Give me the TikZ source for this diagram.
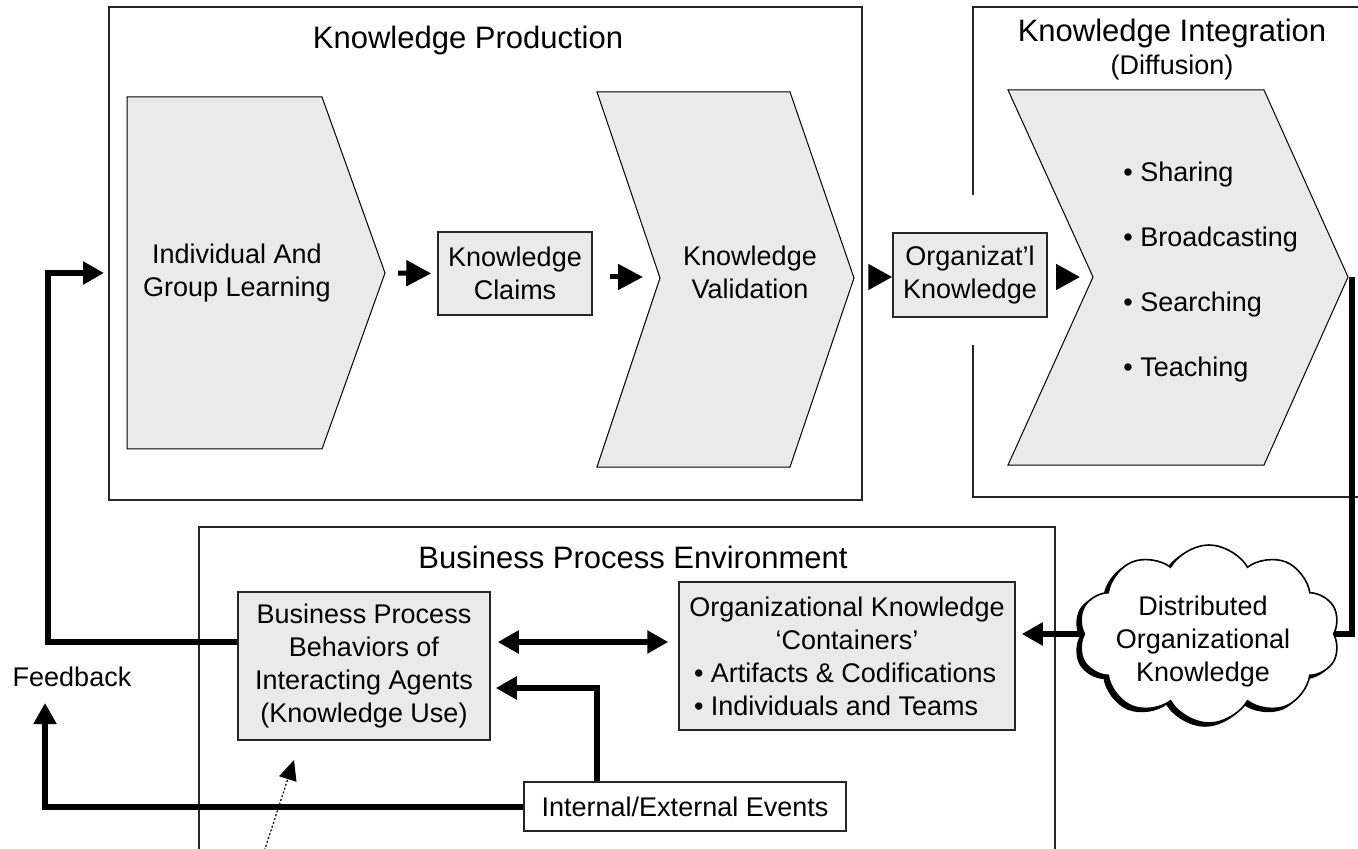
\documentclass[tikz,border=0pt]{standalone}
\usepackage{fontspec}
\setmainfont{Liberation Sans}
\usetikzlibrary{arrows.meta,shapes.symbols}
\definecolor{boxfill}{RGB}{234,234,234}
\newcommand\mybody{\fontsize{13.5pt}{16.5pt}\selectfont}
\newcommand\mytitle{\fontsize{15.5pt}{18.6pt}\selectfont}
\newcommand\mybullet{\fontsize{13.5pt}{32.5pt}\selectfont}
\begin{document}
\begin{tikzpicture}[x=0.5pt,y=-0.5pt,
  frame/.style={draw=black!85, line width=0.75pt},
  chev/.style={draw=black, line width=0.5pt, fill=boxfill},
  gbox/.style={draw=black!85, line width=0.75pt, fill=boxfill, inner sep=0pt, align=center, font=\mybody},
  wbox/.style={draw=black!85, line width=0.75pt, fill=white, inner sep=0pt, align=center, font=\mybody},
  txt/.style={font=\mybody, align=center},
  conn/.style={line width=3pt, -{Triangle[length=10.5pt,width=11pt]}},
  dblarr/.style={line width=3pt, {Triangle[length=10.5pt,width=11pt]}-{Triangle[length=10.5pt,width=11pt]}},
  thickline/.style={line width=3pt},
  smallarr/.style={line width=2.5pt, -{Triangle[length=12.5pt,width=12.5pt]}},
  headarr/.style={line width=2.5pt, -{Triangle[length=12pt,width=12.5pt]}},
  dotarr/.style={line width=0.6pt, dash pattern=on 1pt off 1pt, -{Triangle[length=10pt,width=9pt]}},
  cloudsh/.style={cloud, cloud puffs=10, cloud puff arc=120, cloud ignores aspect,
    minimum width=131pt, minimum height=89pt, inner sep=0pt, line width=0.8pt}
]
\useasboundingbox (0,0) rectangle (1358,849);
\clip (0,0) rectangle (1358,849);
\fill[white] (0,0) rectangle (1358,849);

% frames
\draw[frame] (109,7) rectangle (862,500);
\draw[frame] (1370,7) -- (973,7) -- (973,195);
\draw[frame] (973,345) -- (973,497) -- (1370,497);
\draw[frame] (199,870) -- (199,527) -- (1055,527) -- (1055,870);

% titles
\node[font=\mytitle] (kpt) at (468,40) {Knowledge Production};
\node[font=\mytitle] (kit) at (1172,33) {Knowledge Integration};
\node[txt] (kis) at (1172,68) {(Diffusion)};
\node[font=\mytitle] (bpet) at (633,557) {Business Process Environment};

% chevrons
\draw[chev] (127,97) -- (322,97) -- (385,273) -- (322,449) -- (127,449) -- cycle;
\coordinate (lrntip) at (385,273);
\node[txt] (lrn) at (237,273) {Individual And\\Group Learning};

\draw[chev] (597,92) -- (790,92) -- (854,278) -- (790,467) -- (597,467) -- (660,278) -- cycle;
\coordinate (valnotch) at (660,277);
\coordinate (valtip) at (854,277);
\node[txt] (val) at (750,272) {Knowledge\\Validation};

\draw[chev] (1008,90) -- (1264,90) -- (1348,277) -- (1264,465) -- (1008,465) -- (1093,277) -- cycle;
\coordinate (kinotch) at (1093,277);
\coordinate (kitip) at (1352,277);
\node[font=\mybullet, align=left, anchor=west, inner sep=0pt] (kilist) at (1123,272) {• Sharing\\• Broadcasting\\• Searching\\• Teaching};

% boxes
\node[gbox, minimum width=77pt, minimum height=41.5pt] (claims) at (515,273.5) {Knowledge\\Claims};
\node[gbox, minimum width=77pt, minimum height=42pt] (ok) at (970,275) {Organizat’l\\Knowledge};
\node[gbox, minimum width=126pt, minimum height=74pt] (bpb) at (364,666) {Business Process\\Behaviors of\\Interacting Agents\\(Knowledge Use)};
\node[gbox, minimum width=168pt, minimum height=74pt] (cont) at (847,656) {Organizational Knowledge\\‘Containers’\\\makebox[153pt][l]{• Artifacts \& Codifications}\\\makebox[153pt][l]{• Individuals and Teams}};
\node[wbox, minimum width=161pt, minimum height=24.5pt] (ev) at (685,806.5) {Internal/External Events};
\node[txt] (fb) at (72,677) {Feedback};

% cloud
\node[cloudsh, fill=black, draw=black] (cloudshadow) at ([xshift=-2pt,yshift=-1.5pt]1209,634) {};
\node[cloudsh, fill=white, draw=black] (cloud) at (1209,634) {};
\node[txt] (cloudtxt) at (1203,642) {Distributed\\Organizational\\Knowledge};

% production arrows
\draw[smallarr, shorten <=6.5pt, shorten >=3pt] (lrntip) -- (claims.west);
\draw[smallarr, shorten <=8.5pt, shorten >=8.5pt] (claims.east |- valnotch) -- (valnotch);
\draw[headarr, shorten <=7.5pt] (valtip) -- (ok.west |- valtip);
\draw[headarr, shorten <=4pt, shorten >=6.5pt] (ok.east |- kinotch) -- (kinotch);

% connectors
\coordinate (lpturn) at (48,273);
\coordinate (kpin) at (104,273);
\coordinate (fbtip) at (45,703);
\coordinate (dblL) at ([yshift=12pt]bpb.east);
\coordinate (dotstart) at (262,858);
\coordinate (dottip) at (294,760);

\draw[conn] ([yshift=12pt]bpb.west) -| (lpturn) -- (kpin);
\draw[dblarr, shorten <=3.5pt, shorten >=5pt] (dblL) -- (dblL -| cont.west);
\draw[conn, shorten >=2.5pt] ([xshift=-44pt]ev.north) |- ([yshift=-11pt]bpb.east);
\draw[conn] (ev.west) -| (fbtip);
\draw[conn, shorten >=3pt] (cloud.west) -- (cloud.west -| cont.east);
\draw[thickline] (kitip) |- (cloud.east);
\draw[dotarr] (dotstart) -- (dottip);
\end{tikzpicture}
\end{document}
